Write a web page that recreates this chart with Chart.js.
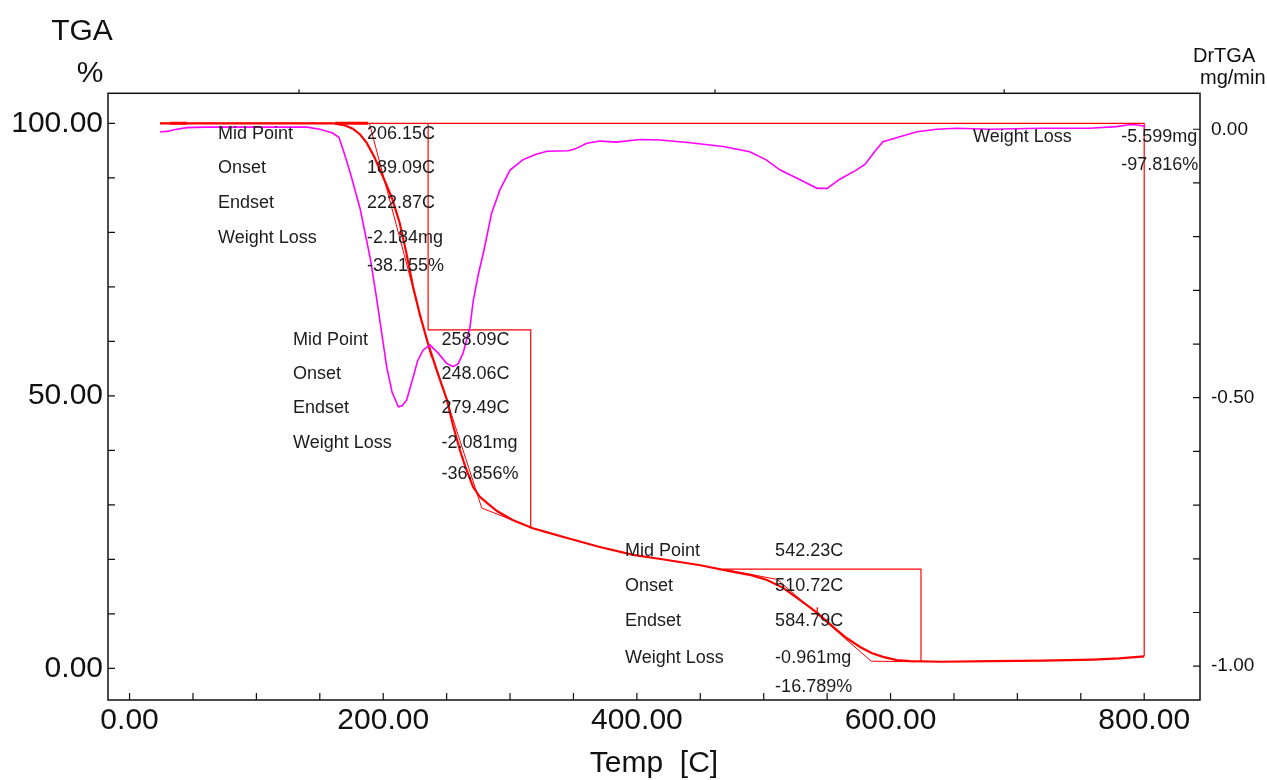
<!DOCTYPE html>
<html>
<head>
<meta charset="utf-8">
<title>TGA / DrTGA</title>
<script src="https://cdn.jsdelivr.net/npm/chart.js@4.4.1/dist/chart.umd.min.js"></script>
<style>
  html, body { margin:0; padding:0; background:#fff; }
  #wrap { width:1267px; height:780px; }
</style>
</head>
<body>
<div id="wrap"><canvas id="chart" width="1267" height="780"></canvas></div>
<script>
// TGA weight curve (temperature C, weight %)
const tgaTemp = [24, 100, 160, 170, 176, 182, 187, 193, 200, 207, 213, 218, 223.5, 229, 235.3, 242, 250.3, 255, 260.5, 265, 270.8, 276, 282, 290, 302, 318, 330, 345, 370, 397, 420, 450, 476, 490, 502.6, 515, 528.7, 542, 554.7, 565, 576, 585, 594, 605, 615.5, 640, 680, 720, 760, 780, 800];
const tgaWeight = [100, 100, 100, 99.6, 99.0, 97.9, 96.4, 93.8, 90.1, 86.2, 81.7, 76.5, 70, 64.8, 59.6, 54.8, 49.2, 44.6, 40, 36.8, 33.3, 31.5, 30.3, 28.8, 27.2, 25.7, 24.9, 23.9, 22.3, 20.8, 20.0, 18.9, 17.7, 17.1, 16.2, 14.8, 12.5, 10.2, 7.6, 5.6, 3.9, 2.8, 2.1, 1.5, 1.3, 1.2, 1.3, 1.4, 1.6, 1.8, 2.2];

// DrTGA derivative curve (temperature C, mg/min)
const dtgTemp = [24, 30, 35, 45, 60, 100, 140, 150, 160, 165, 168.5, 174, 182, 190, 195, 202.7, 207, 211.9, 215, 218.5, 223.7, 227, 231.5, 237, 243.3, 250, 255, 259, 263, 268.4, 271, 275, 279, 285.5, 292, 300, 310, 320, 329, 346, 352, 360.5, 371, 384, 402.5, 418, 442, 468, 489, 502, 513, 528.7, 542, 550, 560, 573, 580, 588, 594, 600, 610, 621, 636.5, 652, 679, 718, 757, 778, 789, 795, 801];
const dtgRate = [-0.0045, -0.004, -0.001, 0.003, 0.004, 0.004, 0.004, 0.0, -0.007, -0.015, -0.039, -0.081, -0.15, -0.243, -0.318, -0.442, -0.49, -0.517, -0.515, -0.504, -0.461, -0.432, -0.411, -0.402, -0.417, -0.436, -0.442, -0.437, -0.417, -0.368, -0.319, -0.27, -0.23, -0.156, -0.113, -0.076, -0.057, -0.047, -0.041, -0.040, -0.036, -0.026, -0.022, -0.024, -0.019, -0.020, -0.025, -0.032, -0.042, -0.057, -0.076, -0.094, -0.110, -0.110, -0.093, -0.076, -0.065, -0.040, -0.023, -0.019, -0.012, -0.0045, 0, 0.002, 0.0, 0.002, 0.002, 0.005, 0.009, 0.008, 0.005];

// step boxes (weight loss markers)
const totalBoxTemp = [24, 800, 800];
const totalBoxWeight = [100, 100, 2.2];
const step12BoxTemp = [235.4, 235.4, 316.3, 316.3];
const step12BoxWeight = [100, 62.1, 62.1, 25.7];
const step3BoxTemp = [468, 624, 624];
const step3BoxWeight = [18.2, 18.2, 1.3];

// tangent construction lines
const tan1Temp = [189.09, 238];
const tan1Weight = [100, 57];
const tan2Temp = [240, 277.7, 318];
const tan2Weight = [56.5, 29.4, 25.7];
const tan3Temp = [470, 510.72, 584.79, 620];
const tan3Weight = [18.1, 16.3, 1.3, 1.2];
const mid3Temp = [542.23, 542.23];
const mid3Weight = [11.2, 9.6];

// short thick baseline marks on the 100 % line
const baseMarkA = [32, 45];
const baseMarkB = [162, 188];
const baseMarkWeight = [100, 100];

// ticks on the top edge
const topTickTemps = [133.6, 461.6, 689.6];

// text blocks: [label, value]
const step1Text = [["Mid Point", "206.15C"], ["Onset", "189.09C"], ["Endset", "222.87C"], ["Weight Loss", "-2.184mg"], ["", "-38.155%"]];
const step2Text = [["Mid Point", "258.09C"], ["Onset", "248.06C"], ["Endset", "279.49C"], ["Weight Loss", "-2.081mg"], ["", "-36.856%"]];
const step3Text = [["Mid Point", "542.23C"], ["Onset", "510.72C"], ["Endset", "584.79C"], ["Weight Loss", "-0.961mg"], ["", "-16.789%"]];
const totalText = [["Weight Loss", "-5.599mg"], ["", "-97.816%"]];

// where each block sits, in data units (label column x, value column x, row y's)
const textBlocks = [
  { rows: step1Text, xl: 69.7, xv: 187.2, ys: [98.0, 91.8, 85.4, 79.0, 73.8] },
  { rows: step2Text, xl: 128.9, xv: 246.0, ys: [60.2, 53.9, 47.7, 41.3, 35.7] },
  { rows: step3Text, xl: 390.7, xv: 509.0, ys: [21.5, 15.1, 8.7, 1.9, -3.4] },
  { rows: totalText, xl: 665.0, xv: 781.9, ys: [97.5, 92.4] }
];

const FONT = "'Liberation Sans', Arial, Helvetica, sans-serif";
const RED = "#ff0000";
const MAG = "#ff00ff";

function pts(xs, ys){ return xs.map((x,i)=>({ x, y: ys[i] })); }

function lineDs(data, color, width, axis){
  return { data, borderColor: color, borderWidth: width, showLine: true, pointRadius: 0, tension: 0, fill: false, yAxisID: axis || 'y' };
}

const datasets = [
  lineDs(pts(dtgTemp, dtgRate), MAG, 1.6, 'y2'),
  lineDs(pts(totalBoxTemp, totalBoxWeight), RED, 1.2),
  lineDs(pts(step12BoxTemp, step12BoxWeight), RED, 1.2),
  lineDs(pts(step3BoxTemp, step3BoxWeight), RED, 1.2),
  lineDs(pts(tan1Temp, tan1Weight), RED, 1),
  lineDs(pts(tan2Temp, tan2Weight), RED, 1),
  lineDs(pts(tan3Temp, tan3Weight), RED, 1),
  lineDs(pts(mid3Temp, mid3Weight), RED, 1.2),
  lineDs(pts(baseMarkA, baseMarkWeight), RED, 3),
  lineDs(pts(baseMarkB, baseMarkWeight), RED, 3),
  lineDs(pts(tgaTemp, tgaWeight), RED, 2.2)
];

function near(v, step){ return Math.abs(v/step - Math.round(v/step)) < 1e-6; }

// frame, inward ticks, titles and annotation text
const decor = {
  id: 'decor',
  afterDraw(chart){
    const { ctx, chartArea: a, scales } = chart;
    const sx = scales.x, sy = scales.y, sy2 = scales.y2;
    ctx.save();
    ctx.strokeStyle = "#111";
    ctx.lineWidth = 1.5;
    ctx.strokeRect(a.left, a.top, a.right - a.left, a.bottom - a.top);

    ctx.lineWidth = 1.2;
    ctx.beginPath();
    sx.ticks.forEach(t=>{
      const p = sx.getPixelForValue(t.value);
      ctx.moveTo(p, a.bottom); ctx.lineTo(p, a.bottom - 7);
    });
    sy.ticks.forEach(t=>{
      const p = sy.getPixelForValue(t.value);
      ctx.moveTo(a.left, p); ctx.lineTo(a.left + 7, p);
    });
    sy2.ticks.forEach(t=>{
      const p = sy2.getPixelForValue(t.value);
      ctx.moveTo(a.right, p); ctx.lineTo(a.right - 7, p);
    });
    topTickTemps.forEach(v=>{
      const p = sx.getPixelForValue(v);
      ctx.moveTo(p, a.top); ctx.lineTo(p, a.top - 4);
    });
    ctx.stroke();

    // axis titles
    ctx.fillStyle = "#111";
    ctx.textBaseline = "middle";
    ctx.textAlign = "center";
    ctx.font = "30px " + FONT;
    ctx.fillText("TGA", 82, 32);
    ctx.fillText("%", 90, 74);
    ctx.fillText("Temp  [C]", (a.left + a.right) / 2, 764);
    ctx.textAlign = "left";
    ctx.font = "20px " + FONT;
    ctx.fillText("DrTGA", 1193, 56);
    ctx.fillText("mg/min", 1200, 78);

    // step annotations
    ctx.font = "18px " + FONT;
    ctx.fillStyle = "#1c1c1c";
    textBlocks.forEach(b=>{
      b.rows.forEach((r,i)=>{
        const py = sy.getPixelForValue(b.ys[i]);
        if(r[0]) ctx.fillText(r[0], sx.getPixelForValue(b.xl), py);
        ctx.fillText(r[1], sx.getPixelForValue(b.xv), py);
      });
    });
    ctx.restore();
  }
};

new Chart(document.getElementById("chart").getContext("2d"), {
  type: 'scatter',
  data: { datasets },
  options: {
    responsive: false,
    animation: false,
    layout: { padding: { top: 93.3, left: 0, right: 0, bottom: 0 } },
    plugins: { legend: { display: false }, tooltip: { enabled: false } },
    scales: {
      x: {
        type: 'linear', position: 'bottom', min: -17, max: 844,
        grid: { display: false, drawTicks: false }, border: { display: false },
        ticks: {
          stepSize: 50, includeBounds: false, autoSkip: false, maxRotation: 0, minRotation: 0,
          padding: 3, color: "#111", font: { size: 30, family: FONT },
          callback: v => near(v, 200) ? v.toFixed(2) : ""
        },
        afterFit(s){ s.height = 80; }
      },
      y: {
        type: 'linear', position: 'left', min: -5.82, max: 105.5,
        grid: { display: false, drawTicks: false }, border: { display: false },
        ticks: {
          stepSize: 10, includeBounds: false, autoSkip: false,
          padding: 5, color: "#111", font: { size: 30, family: FONT },
          callback: v => near(v, 50) ? v.toFixed(2) : ""
        },
        afterFit(s){ s.width = 108; }
      },
      y2: {
        type: 'linear', position: 'right', min: -1.063, max: 0.067,
        grid: { display: false, drawTicks: false }, border: { display: false },
        ticks: {
          stepSize: 0.1, includeBounds: false, autoSkip: false,
          padding: 11, color: "#111", font: { size: 19, family: FONT },
          callback: v => near(v, 0.5) ? (Math.abs(v) < 1e-9 ? 0 : v).toFixed(2) : ""
        },
        afterFit(s){ s.width = 67; }
      }
    }
  },
  plugins: [decor]
});
</script>
</body>
</html>
